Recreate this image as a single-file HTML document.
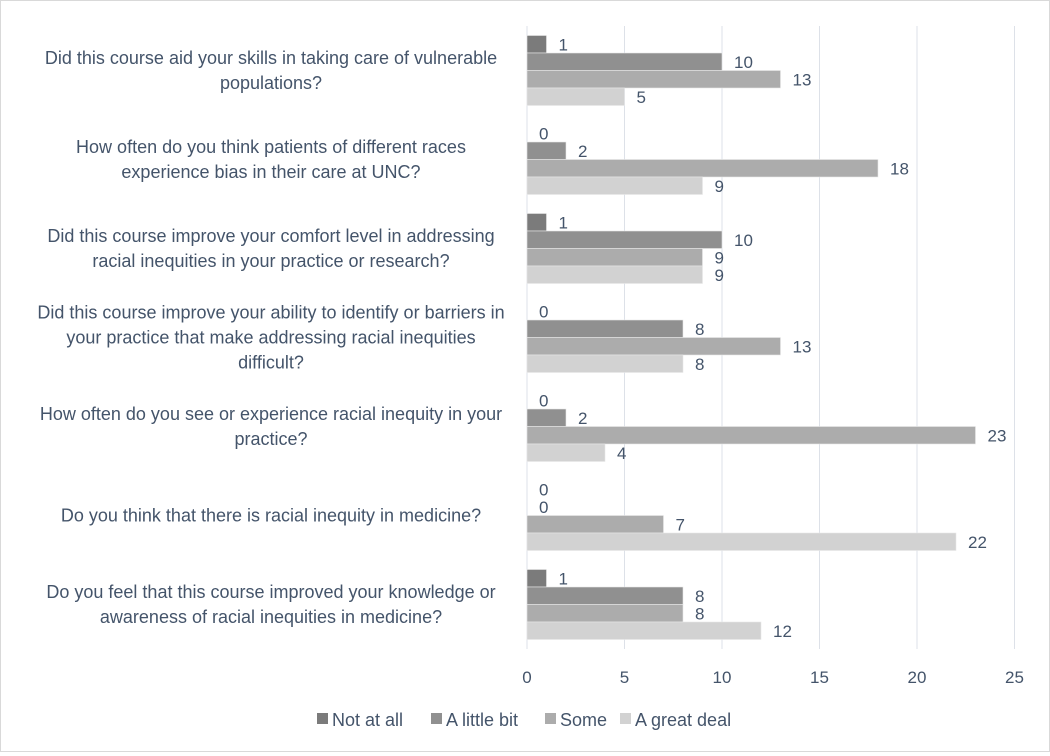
<!DOCTYPE html>
<html><head><meta charset="utf-8"><style>
body{margin:0;background:#fff;font-family:"Liberation Sans",sans-serif;}
#wrap{position:relative;width:1050px;height:752px;border:1px solid #d9d9d9;box-sizing:border-box;}
text{font-family:"Liberation Sans",sans-serif;fill:#44546a;}
</style></head><body>
<div id="wrap">
<svg id="chart" width="1048" height="750"></svg>
</div>
<script>
const categories = [
 ["Did this course aid your skills in taking care of vulnerable","populations?"],
 ["How often do you think patients of different races","experience bias in their care at UNC?"],
 ["Did this course improve your comfort level in addressing","racial inequities in your practice or research?"],
 ["Did this course improve your ability to identify or barriers in","your practice that make addressing racial inequities","difficult?"],
 ["How often do you see or experience racial inequity in your","practice?"],
 ["Do you think that there is racial inequity in medicine?"],
 ["Do you feel that this course improved your knowledge or","awareness of racial inequities in medicine?"]
];
const seriesNames = ["Not at all","A little bit","Some","A great deal"];
const notAtAll = [1,0,1,0,0,0,1];
const aLittleBit = [10,2,10,8,2,0,8];
const some = [13,18,9,13,23,7,8];
const aGreatDeal = [5,9,9,8,4,22,12];
const ticks = [0,5,10,15,20,25];
const series = [notAtAll,aLittleBit,some,aGreatDeal];
const colors = ["#7b7b7b","#909090","#acacac","#d2d2d2"];

const NS="http://www.w3.org/2000/svg";
const svg=document.getElementById('chart');
const x0=526, pxPer=19.5, plotTop=25, plotBottom=648;
const band=(plotBottom-plotTop)/categories.length, barH=17.5;
const xs=v=>x0+v*pxPer;
function mk(t,a){const e=document.createElementNS(NS,t);for(const k in a)e.setAttribute(k,a[k]);svg.appendChild(e);return e;}
ticks.forEach(t=>{
  const g=mk('line',{x1:xs(t),x2:xs(t),y1:plotTop,y2:plotBottom,stroke:'#dde1e8','stroke-width':1});
  
  
  const l=mk('text',{x:xs(t),y:682,'text-anchor':'middle','font-size':17});
  l.textContent=t;
  
  
});
categories.forEach((lines,i)=>{
  const gy=plotTop+band*i+(band-4*barH)/2;
  series.forEach((s,j)=>{
    const v=s[i], y=gy+j*barH;
    const r=mk('rect',{x:x0,y:y,width:Math.max(v*pxPer,0),height:barH,fill:colors[j],stroke:'#e8e8e8','stroke-width':0.6});
    
    
    const t=mk('text',{x:xs(v)+12,y:y+barH/2+6,'font-size':17});
    t.textContent=v;
    
    
  });
  const cy=plotTop+band*i+band/2, lh=25;
  const y1=cy-(lines.length-1)*lh/2+6;
  lines.forEach((ln,k)=>{
    const t=mk('text',{x:270,y:y1+k*lh,'text-anchor':'middle','font-size':18});
    t.textContent=ln;
    
    
  });
});
const lx=[316,430,544,619];
seriesNames.forEach((n,j)=>{
  const r=mk('rect',{x:lx[j],y:712,width:11,height:11,fill:colors[j]});
  
  
  const t=mk('text',{x:lx[j]+15,y:725,'font-size':18});
  t.textContent=n;
  
  
});
</script>
</body></html>
